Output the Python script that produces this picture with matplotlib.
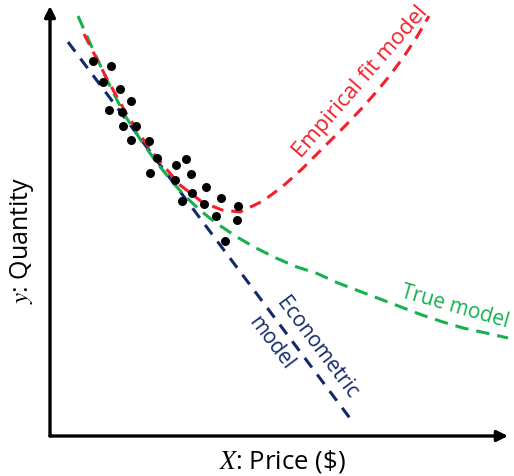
import matplotlib
matplotlib.use("Agg")
import matplotlib.pyplot as plt
import numpy as np

plt.rcParams['mathtext.fontset'] = 'stix'
FONT = ['Open Sans', 'DejaVu Sans']

# Observed data (price, quantity)
price = [43, 61, 53, 70, 81, 59, 72, 73, 86, 81, 99, 107, 136, 126, 100,
         141, 125, 156, 142, 132, 171, 154, 188, 166, 187, 175]
quantity = [375, 370, 354, 347, 335, 326, 324, 310, 310, 296, 295, 278, 277,
            271, 263, 262, 256, 249, 243, 235, 238, 232, 230, 220, 216, 195]

# True model curve
true_x = [28, 40, 57, 74, 92, 107, 124, 137, 151, 166, 187, 206, 226, 247,
          266, 288, 309, 330, 351, 372, 393, 413, 436, 458]
true_y = [420, 393, 356, 322, 294, 273, 252, 238, 225, 213, 199, 188, 178,
          169, 163, 153, 145, 137, 129, 121, 114, 108, 103, 98]

# Empirical fit model curve
emp_x = [34, 57, 76, 95, 107, 130, 152, 172, 190, 213, 232, 252, 266, 281,
         297, 313, 328, 341, 355, 368, 379]
emp_y = [402, 357, 323, 294, 278, 251, 234, 226, 224, 235, 249, 267, 281,
         296, 312, 329, 346, 362, 381, 401, 420]

# Econometric (linear) model
econ_x = [18, 302]
econ_y = [394, 15]

RED = '#F2202B'
GREEN = '#16B050'
NAVY = '#13296B'

fig = plt.figure(figsize=(5.14, 4.77), dpi=100)
ax = fig.add_axes([0, 0, 1, 1])
ax.set_xlim(-50, 464)
ax.set_ylim(-40, 437)
ax.axis('off')

lw = 2.2
ax.plot(econ_x, econ_y, color=NAVY, lw=lw, linestyle=(0, (3.9, 2.9)), zorder=2)
ax.plot(true_x, true_y, color=GREEN, lw=lw, linestyle=(0, (4.4, 2.6)), zorder=3)
ax.plot(emp_x, emp_y, color=RED, lw=lw, linestyle=(0, (3.9, 2.6)), zorder=4)
ax.scatter(price, quantity, s=42, color='black', zorder=5, linewidths=0)

# Axes arrows
arrow = dict(arrowstyle='-|>', lw=2.4, color='black', mutation_scale=16,
             shrinkA=0, shrinkB=0)
ax.annotate('', xy=(0, 430), xytext=(0, 0), arrowprops=arrow)
ax.annotate('', xy=(458, 0), xytext=(0, 0), arrowprops=arrow)

ax.text(-28, 197, r'$y$: Quantity', rotation=90, ha='center', va='center',
        fontsize=18, family=FONT)
ax.text(232, -25, r'$X$: Price (\$)', ha='center', va='center',
        fontsize=18.5, family=FONT)

ax.text(311, 355, 'Empirical fit model', color=RED, rotation=49,
        rotation_mode='anchor', ha='center', va='center', fontsize=16, family=FONT)
ax.text(405, 130, 'True model', color=GREEN, rotation=-16,
        rotation_mode='anchor', ha='center', va='center', fontsize=15, family=FONT)
ax.text(267, 89, 'Econometric', color=NAVY, rotation=-53,
        rotation_mode='anchor', ha='center', va='center', fontsize=15, family=FONT)
ax.text(221, 94, 'model', color=NAVY, rotation=-53,
        rotation_mode='anchor', ha='center', va='center', fontsize=15, family=FONT)

fig.savefig('out.png', dpi=100)
